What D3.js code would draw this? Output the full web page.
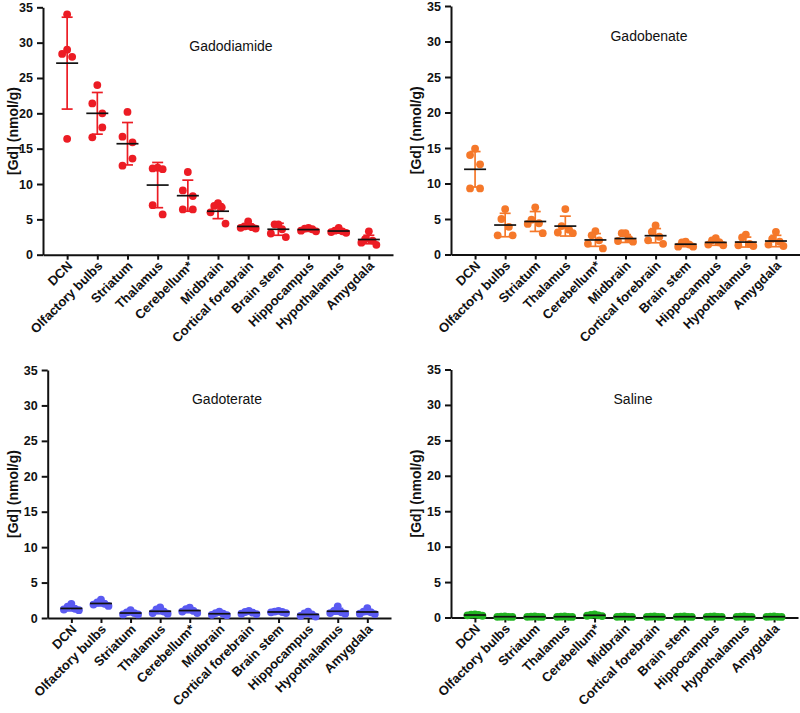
<!DOCTYPE html>
<html><head><meta charset="utf-8">
<script src="https://cdn.jsdelivr.net/npm/d3@7"></script>
<style>body{margin:0;background:#fff} svg{display:block}</style>
</head><body><svg id="c" width="800" height="713"></svg>
<script>
const categories = ["DCN","Olfactory bulbs","Striatum","Thalamus","Cerebellum*","Midbrain","Cortical forebrain","Brain stem","Hippocampus","Hypothalamus","Amygdala"];
const yTicks = [0,5,10,15,20,25,30,35];
const yLabel = "[Gd] (nmol/g)";

const gadodiamidePoints = [
  [34.0,29.0,28.4,28.0,16.4],[24.0,21.4,20.0,18.0,16.6],[20.2,16.7,15.9,13.6,12.6],
  [12.3,12.2,12.1,7.0,5.7],[11.7,9.1,8.3,6.4,6.4],[7.3,6.9,6.7,6.0,4.4],
  [4.7,4.0,3.9,3.8,3.7],[4.3,4.3,3.6,3.0,2.5],[3.8,3.7,3.6,3.4,3.3],
  [3.8,3.4,3.3,3.2,3.1],[3.3,2.2,2.0,1.7,1.4]];
const gadodiamideMeans = [27.1,20.0,15.7,9.85,8.35,6.15,4.0,3.6,3.55,3.35,2.15];
const gadodiamideSD = [6.5,2.95,3.0,3.2,2.2,1.05,0.35,0.85,0.25,0.3,0.6];

const gadobenatePoints = [
  [14.9,14.0,12.7,9.3,9.3],[6.4,5.0,3.9,2.7,2.7],[6.65,4.9,4.4,4.3,3.0],
  [6.4,4.0,3.5,3.1,3.0],[3.3,2.7,2.0,1.5,0.85],[3.0,3.0,2.2,1.9,1.8],
  [4.1,3.2,2.5,2.0,1.5],[1.8,1.7,1.4,1.1,1.1],[2.3,2.0,1.7,1.4,1.3],
  [2.8,2.4,1.5,1.3,1.2],[3.2,2.2,1.8,1.4,1.2]];
const gadobenateMeans = [12.0,4.15,4.65,4.0,2.05,2.25,2.65,1.45,1.7,1.75,1.9];
const gadobenateSD = [2.5,1.65,1.4,1.4,0.9,0.55,1.0,0.35,0.4,0.7,0.8];

const gadoteratePoints = [
  [2.0,1.6,1.3,1.2,1.1],[2.6,2.2,2.0,1.9,1.7],[1.1,0.8,0.7,0.5,0.5],
  [1.5,1.2,0.9,0.7,0.6],[1.45,1.25,1.0,0.9,0.7],[0.9,0.7,0.6,0.45,0.4],
  [1.0,0.85,0.75,0.6,0.55],[1.0,0.9,0.85,0.8,0.7],[0.9,0.65,0.5,0.3,0.2],
  [1.65,1.0,0.8,0.7,0.6],[1.4,0.9,0.8,0.6,0.55]];
const gadoterateMeans = [1.35,2.05,0.7,0.95,1.05,0.6,0.75,0.85,0.5,0.95,0.85];
const gadoterateSD = [0.35,0.35,0.25,0.35,0.3,0.2,0.18,0.1,0.27,0.4,0.33];

const salinePoints = [
  [0.45,0.4,0.35,0.3,0.25],[0.15,0.12,0.1,0.1,0.08],[0.15,0.12,0.1,0.1,0.08],
  [0.15,0.12,0.1,0.1,0.08],[0.45,0.35,0.3,0.25,0.2],[0.15,0.12,0.1,0.1,0.08],
  [0.15,0.12,0.1,0.1,0.08],[0.15,0.12,0.1,0.1,0.08],[0.15,0.12,0.1,0.1,0.08],
  [0.15,0.12,0.1,0.1,0.08],[0.15,0.12,0.1,0.1,0.08]];
const salineMeans = [0.35,0.11,0.11,0.11,0.31,0.11,0.11,0.11,0.11,0.11,0.11];
const salineSD = [0.08,0.03,0.03,0.03,0.1,0.03,0.03,0.03,0.03,0.03,0.03];

const panels = [
  {title:"Gadodiamide", color:"#ec1c24", points:gadodiamidePoints, means:gadodiamideMeans, sds:gadodiamideSD,
   x0:43, x1:393, yB:254.7, yT:7.3, tx:231, ty:51, lx:13},
  {title:"Gadobenate", color:"#f5782a", points:gadobenatePoints, means:gadobenateMeans, sds:gadobenateSD,
   x0:451, x1:800, yB:254.5, yT:6, tx:649, ty:41, lx:416},
  {title:"Gadoterate", color:"#5a5af2", points:gadoteratePoints, means:gadoterateMeans, sds:gadoterateSD,
   x0:47.7, x1:391, yB:618, yT:370, tx:227, ty:404, lx:13},
  {title:"Saline", color:"#22b422", points:salinePoints, means:salineMeans, sds:salineSD,
   x0:451, x1:798, yB:617.5, yT:369.5, tx:633, ty:404, lx:416}
];

const FONT = "'Liberation Sans', Arial, Helvetica, sans-serif";
const svg = d3.select("#c");
svg.append("rect").attr("width",800).attr("height",713).attr("fill","#fff");

function layout(vals, y){
  const idx = vals.map((v,i)=>i).sort((a,b)=>vals[b]-vals[a]);
  const groups = [];
  let cur = [];
  idx.forEach(i=>{
    if(cur.length && Math.abs(y(vals[cur[cur.length-1]]) - y(vals[i])) >= 12){ groups.push(cur); cur=[]; }
    cur.push(i);
  });
  if(cur.length) groups.push(cur);
  const off = new Array(vals.length).fill(0);
  groups.forEach((g,gi)=>{
    const n = g.length;
    let slots;
    if(n%2===1){ slots=[0]; for(let k=1;slots.length<n;k++){slots.push(-k); if(slots.length<n) slots.push(k);} }
    else { slots=[]; for(let k=1;slots.length<n;k++){slots.push(-k); slots.push(k);} }
    if(n===2 && gi%2===0 && groups.length>1 && groups[0].length!==2) slots=[1,-1];
    const mx = d3.max(slots.map(Math.abs));
    const unit = mx*5>7.5 ? 7.5/mx : 5;
    g.forEach((i,k)=>{ off[i]=slots[k]*unit; });
  });
  return off;
}

panels.forEach(p=>{
  const g = svg.append("g");
  const x = d3.scalePoint().domain(categories).range([p.x0,p.x1]).padding(0.8);
  const y = d3.scaleLinear().domain([0,35]).range([p.yB,p.yT]);

  const ya = g.append("g").attr("transform",`translate(${p.x0},0)`)
    .call(d3.axisLeft(y).tickValues(yTicks).tickSize(6).tickSizeOuter(0).tickPadding(4));
  ya.select(".domain").attr("stroke","#111").attr("stroke-width",2);
  ya.selectAll(".tick line").attr("stroke","#111").attr("stroke-width",2);
  ya.selectAll(".tick text").attr("font-family",FONT).attr("font-weight","bold").attr("font-size",12.5).attr("fill","#111");

  const xa = g.append("g").attr("transform",`translate(0,${p.yB})`)
    .call(d3.axisBottom(x).tickSize(5).tickSizeOuter(0).tickFormat(""));
  xa.select(".domain").attr("stroke","#111").attr("stroke-width",2);
  xa.selectAll(".tick line").attr("stroke","#111").attr("stroke-width",2);
  g.selectAll(".xl").data(categories).enter().append("text")
    .attr("transform",d=>`translate(${x(d)+6},${p.yB+12}) rotate(-45)`)
    .attr("text-anchor","end").attr("font-family",FONT).attr("font-weight","bold")
    .attr("font-size",13).attr("fill","#111").text(d=>d);

  g.append("text").attr("transform",`translate(${p.lx},${(p.yB+p.yT)/2}) rotate(-90)`)
    .attr("dy","0.35em").attr("text-anchor","middle").attr("font-family",FONT)
    .attr("font-weight","bold").attr("font-size",14).attr("fill","#111").text(yLabel);

  g.append("text").attr("x",p.tx).attr("y",p.ty).attr("text-anchor","middle")
    .attr("font-family",FONT).attr("font-size",14).attr("fill","#111").text(p.title);

  categories.forEach((c,ci)=>{
    const cx = x(c), m = p.means[ci], s = p.sds[ci];
    g.append("line").attr("x1",cx).attr("x2",cx).attr("y1",y(m-s)).attr("y2",y(m+s))
      .attr("stroke",p.color).attr("stroke-width",1.7);
    [m-s,m+s].forEach(v=>g.append("line").attr("x1",cx-5.5).attr("x2",cx+5.5).attr("y1",y(v)).attr("y2",y(v))
      .attr("stroke",p.color).attr("stroke-width",1.7));
    const vals = p.points[ci];
    const off = layout(vals,y);
    vals.forEach((v,i)=>g.append("circle").attr("cx",cx+off[i]).attr("cy",y(v)).attr("r",3.9).attr("fill",p.color));
    g.append("line").attr("x1",cx-11).attr("x2",cx+11).attr("y1",y(m)).attr("y2",y(m))
      .attr("stroke","#111").attr("stroke-width",1.7);
  });
});
</script></body></html>
